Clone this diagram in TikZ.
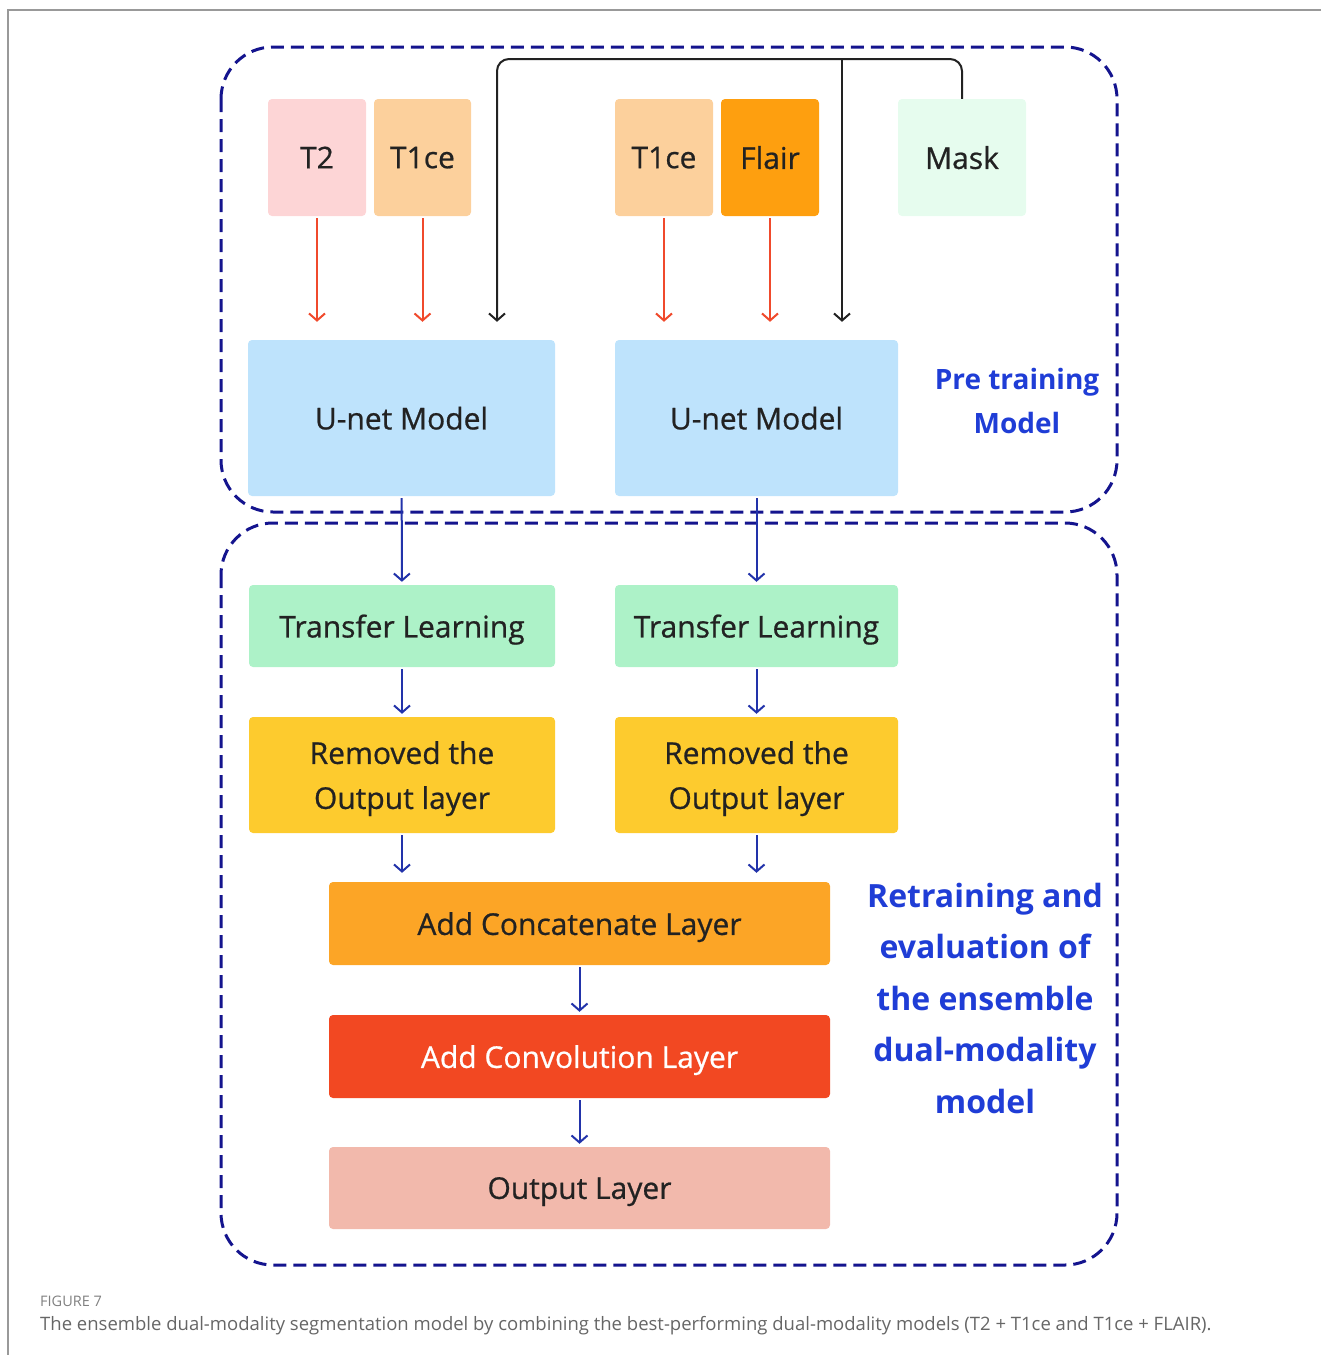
\documentclass[tikz,border=0pt]{standalone}
\usepackage{fontspec}
\setmainfont{Open Sans}
\newfontfamily\medfont[FakeBold=0.7]{Open Sans}
\usetikzlibrary{arrows.meta}

\definecolor{ink}{HTML}{222222}
\definecolor{navy}{HTML}{14148E}
\definecolor{arrred}{HTML}{F04A2C}
\definecolor{arrblue}{HTML}{2233AA}
\definecolor{lblue}{HTML}{1F3DD6}
\definecolor{capgray}{HTML}{666666}
\definecolor{cT2}{HTML}{FDD5D6}
\definecolor{cT1}{HTML}{FCD09C}
\definecolor{cFl}{HTML}{FE9F0F}
\definecolor{cMk}{HTML}{E6FCEE}
\definecolor{cUn}{HTML}{BEE3FC}
\definecolor{cTl}{HTML}{ADF2C8}
\definecolor{cRo}{HTML}{FDCB2E}
\definecolor{cCt}{HTML}{FCA526}
\definecolor{cCv}{HTML}{F24822}
\definecolor{cOu}{HTML}{F2B9AC}

\begin{document}
\begin{tikzpicture}[x=1pt,y=-1pt,>={Straight Barb[length=7pt,width=16pt]},
  box/.style={rounded corners=4pt,inner sep=0pt,align=center,text=ink,text depth=0pt,font=\medfont\fontsize{30}{45}\selectfont},
  grp/.style={draw=navy,line width=3pt,dash pattern=on 13pt off 7pt,rounded corners=52pt},
  redarr/.style={->,draw=arrred,line width=2pt},
  bluarr/.style={->,draw=arrblue,line width=2pt},
  blkarr/.style={->,draw=ink,line width=2pt},
  lbl/.style={text=lblue,align=center}]
  \useasboundingbox (0,0) rectangle (1321,1355);
  \draw[gray!80,line width=1.5pt] (8,1355)--(8,10)--(1321,10);
  % the two groups
  \draw[grp] (221,47) rectangle (1117,512);
  \draw[grp] (221,523) rectangle (1117,1265);
  % inputs
  \node[box,fill=cT2,minimum width=98,minimum height=117] (t2) at (317,157.5) {T2};
  \node[box,fill=cT1,minimum width=97,minimum height=117] (t1a) at (422.5,157.5) {T1ce};
  \node[box,fill=cT1,minimum width=98,minimum height=117] (t1b) at (664,157.5) {T1ce};
  \node[box,fill=cFl,minimum width=98,minimum height=117] (flair) at (770,157.5) {Flair};
  \node[box,fill=cMk,minimum width=128,minimum height=117] (mask) at (962,157.5) {Mask};
  % models
  \node[box,fill=cUn,minimum width=307,minimum height=156] (unetL) at (401.5,418) {U-net Model};
  \node[box,fill=cUn,minimum width=283,minimum height=156] (unetR) at (756.5,418) {U-net Model};
  \node[lbl,font=\bfseries\fontsize{28}{44}\selectfont] (pre) at (1017,401) {Pre training\\Model};
  \node[box,fill=cTl,minimum width=306,minimum height=82] (tlL) at (402,626) {Transfer Learning};
  \node[box,fill=cTl,minimum width=283,minimum height=82] (tlR) at (756.5,626) {Transfer Learning};
  \node[box,fill=cRo,minimum width=306,minimum height=116] (roL) at (402,775) {Removed the\\Output layer};
  \node[box,fill=cRo,minimum width=283,minimum height=116] (roR) at (756.5,775) {Removed the\\Output layer};
  \node[box,fill=cCt,minimum width=501,minimum height=83] (cat) at (579.5,923.5) {Add Concatenate Layer};
  \node[box,fill=cCv,text=white,minimum width=501,minimum height=83] (conv) at (579.5,1056.5) {Add Convolution Layer};
  \node[box,fill=cOu,minimum width=501,minimum height=82] (outl) at (579.5,1188) {Output Layer};
  \node[lbl,font=\bfseries\fontsize{32}{51.5}\selectfont] (ret) at (985,998) {Retraining and\\evaluation of\\the ensemble\\dual-modality\\model};
  % red inputs
  \foreach \s/\t in {t2/unetL,t1a/unetL,t1b/unetR,flair/unetR}
    \draw[redarr,shorten <=2pt,shorten >=18pt] (\s.south) -- (\s.south |- \t.north);
  % mask feed
  \coordinate (busL) at (497,59); \coordinate (busR) at (842,59);
  \draw[blkarr,rounded corners=12pt,shorten >=18pt] (mask.north) |- (busL) -- (busL |- unetL.north);
  \draw[blkarr,shorten >=18pt] (busR) -- (busR |- unetR.north);
  % second stage
  \draw[bluarr,shorten <=2pt,shorten >=3pt] (unetL) -- (tlL);
  \draw[bluarr,shorten <=2pt,shorten >=3pt] (unetR.south) -- (tlR.north);
  \draw[bluarr,shorten <=2pt,shorten >=3pt] (tlL) -- (roL);
  \draw[bluarr,shorten <=2pt,shorten >=3pt] (tlR) -- (roR);
  \draw[bluarr,shorten <=2pt,shorten >=9pt] (roL.south) -- (roL.south |- cat.north);
  \draw[bluarr,shorten <=2pt,shorten >=9pt] (roR.south) -- (roR.south |- cat.north);
  \draw[bluarr,shorten <=2pt,shorten >=3pt] (cat) -- (conv);
  \draw[bluarr,shorten <=2pt,shorten >=3pt] (conv) -- (outl);
  % caption
  \node[anchor=base west,text=gray,font=\fontsize{14.5}{16}\selectfont,inner sep=0] (fig) at (40,1306) {FIGURE 7};
  \node[anchor=base west,text=capgray,font=\fontsize{18.5}{20}\selectfont,inner sep=0] (cap) at (40,1330) {The ensemble dual-modality segmentation model by combining the best-performing dual-modality models (T2 + T1ce and T1ce + FLAIR).};
\end{tikzpicture}
\end{document}
